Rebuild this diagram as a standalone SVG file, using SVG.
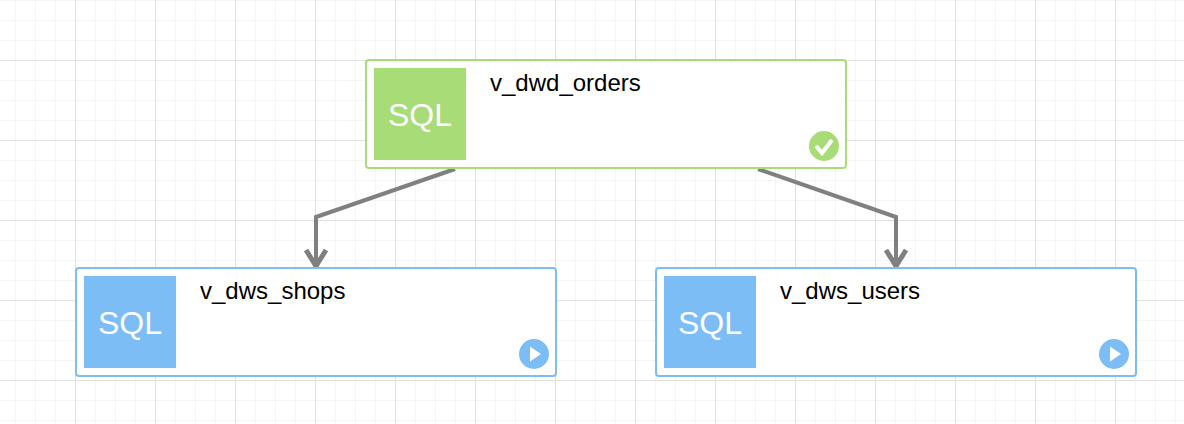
<svg xmlns="http://www.w3.org/2000/svg" width="1184" height="424" viewBox="0 0 1184 424">
<style>
.minor{stroke:#f5f5f5;stroke-width:1;fill:none}
.major{stroke:#e0e0e0;stroke-width:1;fill:none}
.box{fill:#fff;stroke-width:2}
.g .box{stroke:#a8dc76}.b .box{stroke:#7dbdf6}
.g .ic{fill:#a8dc76}.b .ic{fill:#7dbdf6}
.sql{font:32px "Liberation Sans",Arial,sans-serif;fill:#fff;text-anchor:middle}
.name{font:24px "Liberation Sans",Arial,sans-serif;fill:#000}
.edge{fill:none;stroke:#808080;stroke-width:4}
.head{fill:none;stroke:#808080;stroke-width:5}
</style>
<defs>
<pattern id="grid" x="-5" y="0" width="80" height="80" patternUnits="userSpaceOnUse">
<path class="minor" d="M0.5 0V80M20.5 0V80M40.5 0V80M60.5 0V80M0 0.5H80M0 20.5H80M0 40.5H80M0 60.5H80"/>
<path class="major" d="M0.5 0V80M0 60.5H80"/>
</pattern>
</defs>
<rect width="1184" height="424" fill="#fff"/>
<rect width="1184" height="424" fill="url(#grid)"/>
<g id="connectors">
<path class="edge" d="M455 169L316 217V266"/>
<path class="head" d="M306 250L316 266L326 250"/>
<path class="edge" d="M758 169L896 217V266"/>
<path class="head" d="M886 250L896 266L906 250"/>
</g>
<g id="v_dwd_orders" class="g">
<rect class="box" x="366" y="60" width="480" height="108" rx="3"/>
<rect class="ic" x="374" y="68" width="92" height="92"/>
<text class="sql" x="420" y="126">SQL</text>
<text class="name" x="490" y="91">v_dwd_orders</text>
<circle class="ic" cx="824" cy="146" r="15"/>
<path d="M816 146L822 153L832 140" fill="none" stroke="#fff" stroke-width="4"/>
</g>
<g id="v_dws_shops" class="b">
<rect class="box" x="76" y="268" width="480" height="108" rx="3"/>
<rect class="ic" x="84" y="276" width="92" height="92"/>
<text class="sql" x="130" y="334">SQL</text>
<text class="name" x="200" y="299">v_dws_shops</text>
<circle class="ic" cx="534" cy="354" r="15"/>
<path d="M530 346.500L541 354L530 361.500Z" fill="#fff"/>
</g>
<g id="v_dws_users" class="b">
<rect class="box" x="656" y="268" width="480" height="108" rx="3"/>
<rect class="ic" x="664" y="276" width="92" height="92"/>
<text class="sql" x="710" y="334">SQL</text>
<text class="name" x="780" y="299">v_dws_users</text>
<circle class="ic" cx="1114" cy="354" r="15"/>
<path d="M1110 346.500L1121 354L1110 361.500Z" fill="#fff"/>
</g>
</svg>
